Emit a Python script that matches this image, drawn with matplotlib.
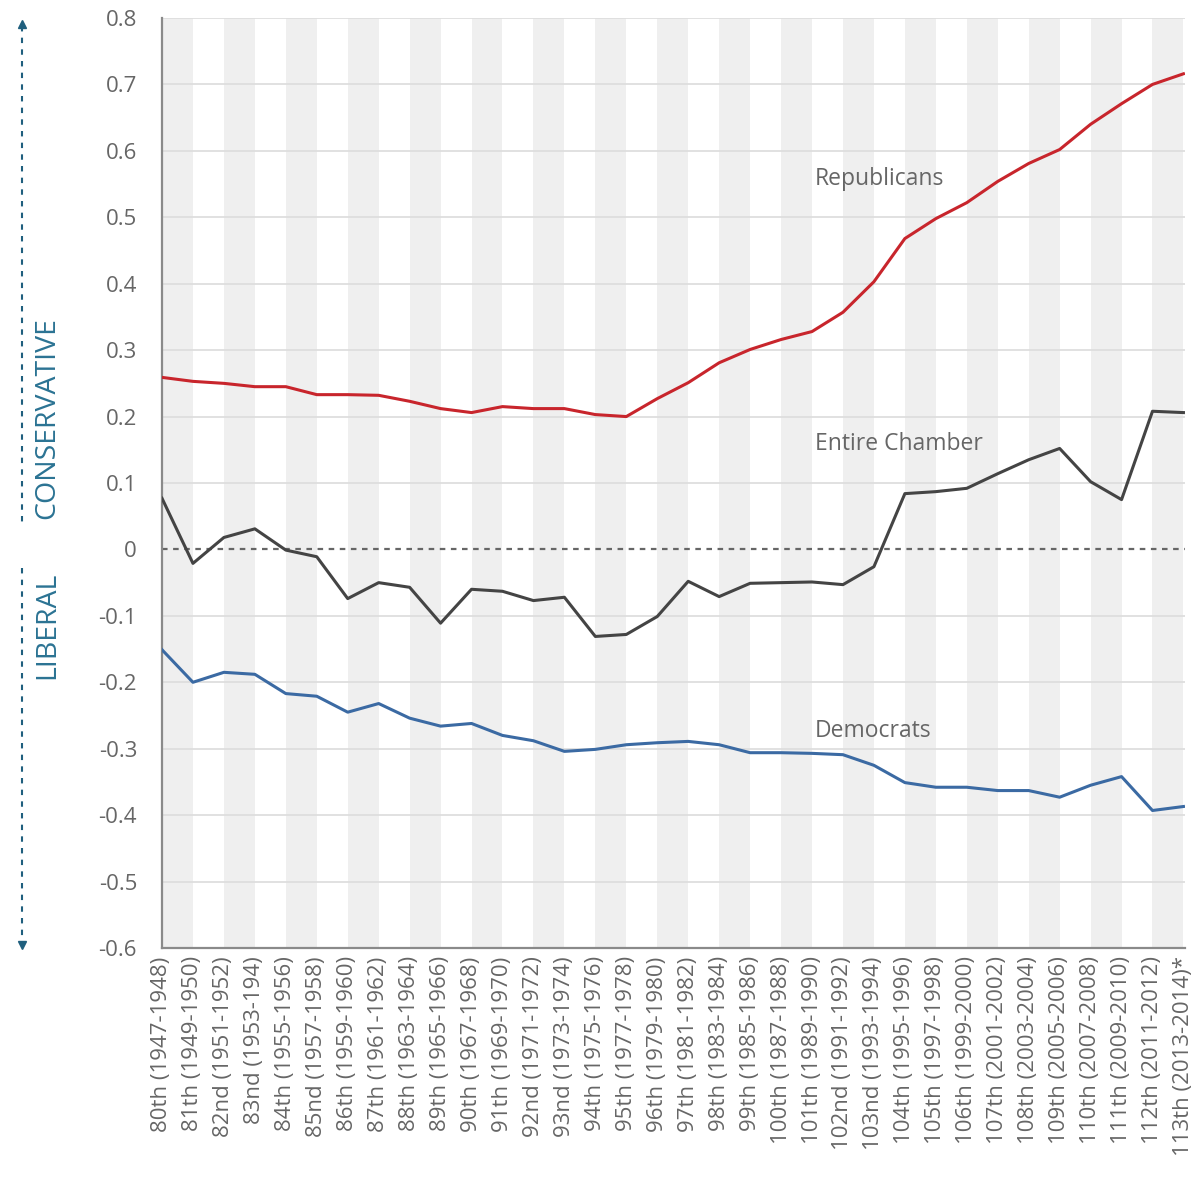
import matplotlib
matplotlib.use("Agg")
import matplotlib.pyplot as plt
from matplotlib.lines import Line2D

plt.rcParams['font.family'] = ['Open Sans', 'DejaVu Sans']

congress_labels = [
    "80th (1947-1948)", "81th (1949-1950)", "82nd (1951-1952)", "83nd (1953-194)",
    "84th (1955-1956)", "85nd (1957-1958)", "86th (1959-1960)", "87th (1961-1962)",
    "88th (1963-1964)", "89th (1965-1966)", "90th (1967-1968)", "91th (1969-1970)",
    "92nd (1971-1972)", "93nd (1973-1974)", "94th (1975-1976)", "95th (1977-1978)",
    "96th (1979-1980)", "97th (1981-1982)", "98th (1983-1984)", "99th (1985-1986)",
    "100th (1987-1988)", "101th (1989-1990)", "102nd (1991-1992)", "103nd (1993-1994)",
    "104th (1995-1996)", "105th (1997-1998)", "106th (1999-2000)", "107th (2001-2002)",
    "108th (2003-2004)", "109th (2005-2006)", "110th (2007-2008)", "111th (2009-2010)",
    "112th (2011-2012)", "113th (2013-2014)*",
]

republicans = [0.259, 0.253, 0.250, 0.245, 0.245, 0.233, 0.233, 0.232, 0.223, 0.212,
               0.206, 0.215, 0.212, 0.212, 0.203, 0.200, 0.227, 0.251, 0.281, 0.301,
               0.316, 0.328, 0.357, 0.403, 0.468, 0.498, 0.522, 0.554, 0.581, 0.602,
               0.640, 0.671, 0.700, 0.716]

entire_chamber = [0.077, -0.021, 0.018, 0.031, -0.001, -0.011, -0.074, -0.050, -0.057, -0.111,
                  -0.060, -0.063, -0.077, -0.072, -0.131, -0.128, -0.101, -0.048, -0.071, -0.051,
                  -0.050, -0.049, -0.053, -0.026, 0.084, 0.087, 0.092, 0.114, 0.135, 0.152,
                  0.102, 0.075, 0.208, 0.206]

democrats = [-0.151, -0.200, -0.185, -0.188, -0.217, -0.221, -0.245, -0.232, -0.254, -0.266,
             -0.262, -0.280, -0.288, -0.304, -0.301, -0.294, -0.291, -0.289, -0.294, -0.306,
             -0.306, -0.307, -0.309, -0.325, -0.351, -0.358, -0.358, -0.363, -0.363, -0.373,
             -0.355, -0.342, -0.393, -0.387]

y_ticks = [0.8, 0.7, 0.6, 0.5, 0.4, 0.3, 0.2, 0.1, 0, -0.1, -0.2, -0.3, -0.4, -0.5, -0.6]
y_tick_labels = ["0.8", "0.7", "0.6", "0.5", "0.4", "0.3", "0.2", "0.1", "0",
                 "-0.1", "-0.2", "-0.3", "-0.4", "-0.5", "-0.6"]

W, H = 1196, 1192
fig = plt.figure(figsize=(W / 100, H / 100), dpi=100)
ax = fig.add_axes([162 / W, (H - 948) / H, 1023 / W, 930 / H])

n = len(congress_labels)
x = list(range(n))

for i in range(0, n - 1, 2):
    ax.axvspan(i, i + 1, color='#efefef', lw=0, zorder=0)

for yt in y_ticks:
    if yt != 0 and yt != -0.6:
        ax.axhline(yt, color='#dcdcdc', lw=1.2, zorder=1)
ax.axhline(0, color='#666666', lw=1.6, ls=(0, (2.5, 2.5)), zorder=2)

ax.plot(x, republicans, color='#c8252c', lw=2.2, zorder=3)
ax.plot(x, entire_chamber, color='#444444', lw=2.2, zorder=3)
ax.plot(x, democrats, color='#3b6aa3', lw=2.2, zorder=3)

ax.set_xlim(0, n - 1 + 0.05)
ax.set_ylim(-0.6, 0.8)
ax.set_yticks(y_ticks)
ax.set_yticklabels(y_tick_labels)
ax.set_xticks(x)
ax.set_xticklabels(congress_labels, rotation=90, ha='center', va='top')
ax.tick_params(axis='both', length=0, colors='#666666', labelsize=16)
ax.tick_params(axis='y', pad=18)
ax.tick_params(axis='x', pad=6)

for s in ['top', 'right']:
    ax.spines[s].set_visible(False)
for s in ['left', 'bottom']:
    ax.spines[s].set_color('#8a8a8a')
    ax.spines[s].set_linewidth(1.6)

label_kw = dict(color='#666666', fontsize=16.5, ha='left', va='center')
ax.text(21.1, 0.558, "Republicans", **label_kw)
ax.text(21.1, 0.159, "Entire Chamber", **label_kw)
ax.text(21.1, -0.273, "Democrats", **label_kw)

teal = '#1f5f7e'
fx = 22 / W
def fy(py):
    return (H - py) / H
fig.add_artist(Line2D([fx, fx], [fy(26), fy(527)], transform=fig.transFigure,
                      color=teal, lw=1.5, ls=(0, (2.6, 3.0))))
fig.add_artist(Line2D([fx, fx], [fy(568), fy(942)], transform=fig.transFigure,
                      color=teal, lw=1.5, ls=(0, (2.6, 3.0))))
fig.add_artist(Line2D([fx], [fy(24)], transform=fig.transFigure, marker='^',
                      color=teal, markersize=6, lw=0))
fig.add_artist(Line2D([fx], [fy(945)], transform=fig.transFigure, marker='v',
                      color=teal, markersize=6, lw=0))

fig.text(47 / W, fy(418), "CONSERVATIVE", rotation=90, ha='center', va='center',
         color='#2b7393', fontsize=20.5)
fig.text(47 / W, fy(625), "LIBERAL", rotation=90, ha='center', va='center',
         color='#2b7393', fontsize=20.5)

fig.savefig("out.png", dpi=100, facecolor='white')
